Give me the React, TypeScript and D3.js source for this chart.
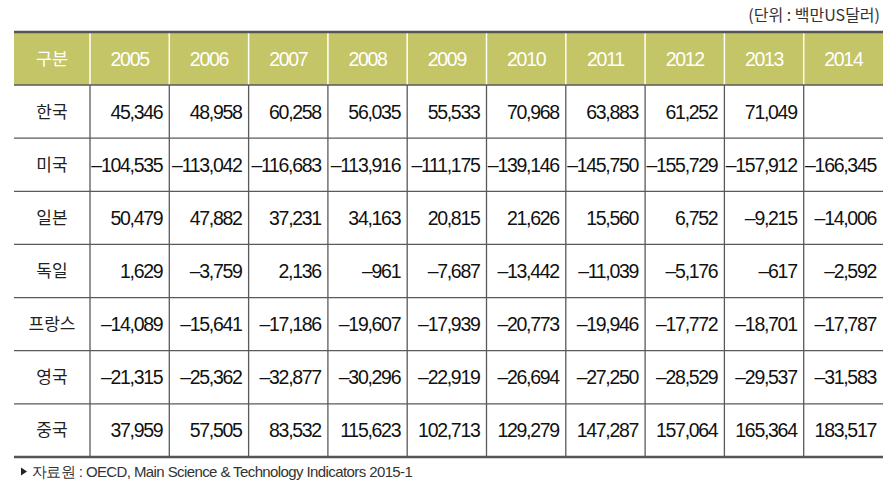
import React from "react";
import * as d3 from "d3";

const years = ["2005", "2006", "2007", "2008", "2009", "2010", "2011", "2012", "2013", "2014"];
const countries = ["한국", "미국", "일본", "독일", "프랑스", "영국", "중국"];
const korea = [45346, 48958, 60258, 56035, 55533, 70968, 63883, 61252, 71049, null];
const usa = [-104535, -113042, -116683, -113916, -111175, -139146, -145750, -155729, -157912, -166345];
const japan = [50479, 47882, 37231, 34163, 20815, 21626, 15560, 6752, -9215, -14006];
const germany = [1629, -3759, 2136, -961, -7687, -13442, -11039, -5176, -617, -2592];
const france = [-14089, -15641, -17186, -19607, -17939, -20773, -19946, -17772, -18701, -17787];
const uk = [-21315, -25362, -32877, -30296, -22919, -26694, -27250, -28529, -29537, -31583];
const china = [37959, 57505, 83532, 115623, 102713, 129279, 147287, 157064, 165364, 183517];
const headerLabel = "구분";
const unitLabel = "(단위 : 백만US달러)";
const sourceLabel = "자료원 : OECD, Main Science & Technology Indicators 2015-1";

const rows = [korea, usa, japan, germany, france, uk, china];

const W = 895;
const H = 495;
const left = 14;
const firstColRight = 90;
const right = 883;
const top = 32;
const headerBottom = 85;
const bottom = 457;

const numFont = "'Liberation Sans', Arial, sans-serif";
const korFont = "'Noto Sans CJK KR', sans-serif";

function fmt(v: number | null): string {
  if (v === null) return "";
  const s = d3.format(",")(Math.abs(v));
  return v < 0 ? "–" + s : s;
}

export default function App() {
  const x = d3.scaleBand<string>().domain(years).range([firstColRight, right]);
  const y = d3.scaleBand<string>().domain(countries).range([headerBottom, bottom]);
  const lineColor = "#5a5a5a";

  return (
    <svg width={W} height={H} style={{ display: "block", position: "absolute", left: 0, top: 0 }}>
      <rect x={0} y={0} width={W} height={H} fill="#ffffff" />
      {/* unit label */}
      <text x={880} y={21} textAnchor="end" fontFamily={korFont} fontSize={16} fill="#333">
        {unitLabel}
      </text>
      {/* header */}
      <rect x={left} y={top} width={right - left} height={headerBottom - top} fill="#c4c566" />
      <text
        x={(left + firstColRight) / 2}
        y={(top + headerBottom) / 2 + 6}
        textAnchor="middle"
        fontFamily={korFont}
        fontSize={17.5}
        fill="#fff"
      >
        {headerLabel}
      </text>
      {years.map((yr) => (
        <text
          key={yr}
          x={(x(yr) as number) + x.bandwidth() / 2}
          y={(top + headerBottom) / 2 + 7}
          textAnchor="middle"
          fontFamily={numFont}
          fontSize={19.5}
          letterSpacing={-1.3}
          fill="#fff"
        >
          {yr}
        </text>
      ))}
      {/* header vertical white lines */}
      {years.map((yr) => (
        <line
          key={"hv" + yr}
          x1={x(yr) as number}
          x2={x(yr) as number}
          y1={top}
          y2={headerBottom}
          stroke="#fff"
          strokeWidth={1.5}
        />
      ))}
      {/* body vertical lines */}
      {years.map((yr) => (
        <line
          key={"bv" + yr}
          x1={x(yr) as number}
          x2={x(yr) as number}
          y1={headerBottom}
          y2={bottom}
          stroke={lineColor}
          strokeWidth={1.3}
        />
      ))}
      {/* rows */}
      {countries.map((c, i) => {
        const ry = y(c) as number;
        const cy = ry + y.bandwidth() / 2;
        return (
          <g key={c}>
            <text
              x={(left + firstColRight) / 2}
              y={cy + 6}
              textAnchor="middle"
              fontFamily={korFont}
              fontSize={17}
              fill="#222"
            >
              {c}
            </text>
            {rows[i].map((v, j) => (
              <text
                key={j}
                x={(x(years[j]) as number) + x.bandwidth() - 7}
                y={cy + 7}
                textAnchor="end"
                fontFamily={numFont}
                fontSize={19.5}
                letterSpacing={-1.3}
                fill="#111"
              >
                {fmt(v)}
              </text>
            ))}
            {i > 0 && (
              <line x1={left} x2={right} y1={ry} y2={ry} stroke={lineColor} strokeWidth={1.3} />
            )}
          </g>
        );
      })}
      {/* header bottom line */}
      <line x1={left} x2={right} y1={headerBottom} y2={headerBottom} stroke={lineColor} strokeWidth={1.3} />
      {/* top and bottom thick lines */}
      <line x1={left} x2={right} y1={top} y2={top} stroke="#555" strokeWidth={2.5} />
      <line x1={left} x2={right} y1={bottom} y2={bottom} stroke="#555" strokeWidth={2.5} />
      {/* source */}
      <path d="M21,467.5 L27,471.5 L21,475.5 Z" fill="#222" />
      <text x={32} y={477} fontFamily={numFont} fontSize={15} fill="#333" letterSpacing={-0.6}>
        {sourceLabel}
      </text>
    </svg>
  );
}
